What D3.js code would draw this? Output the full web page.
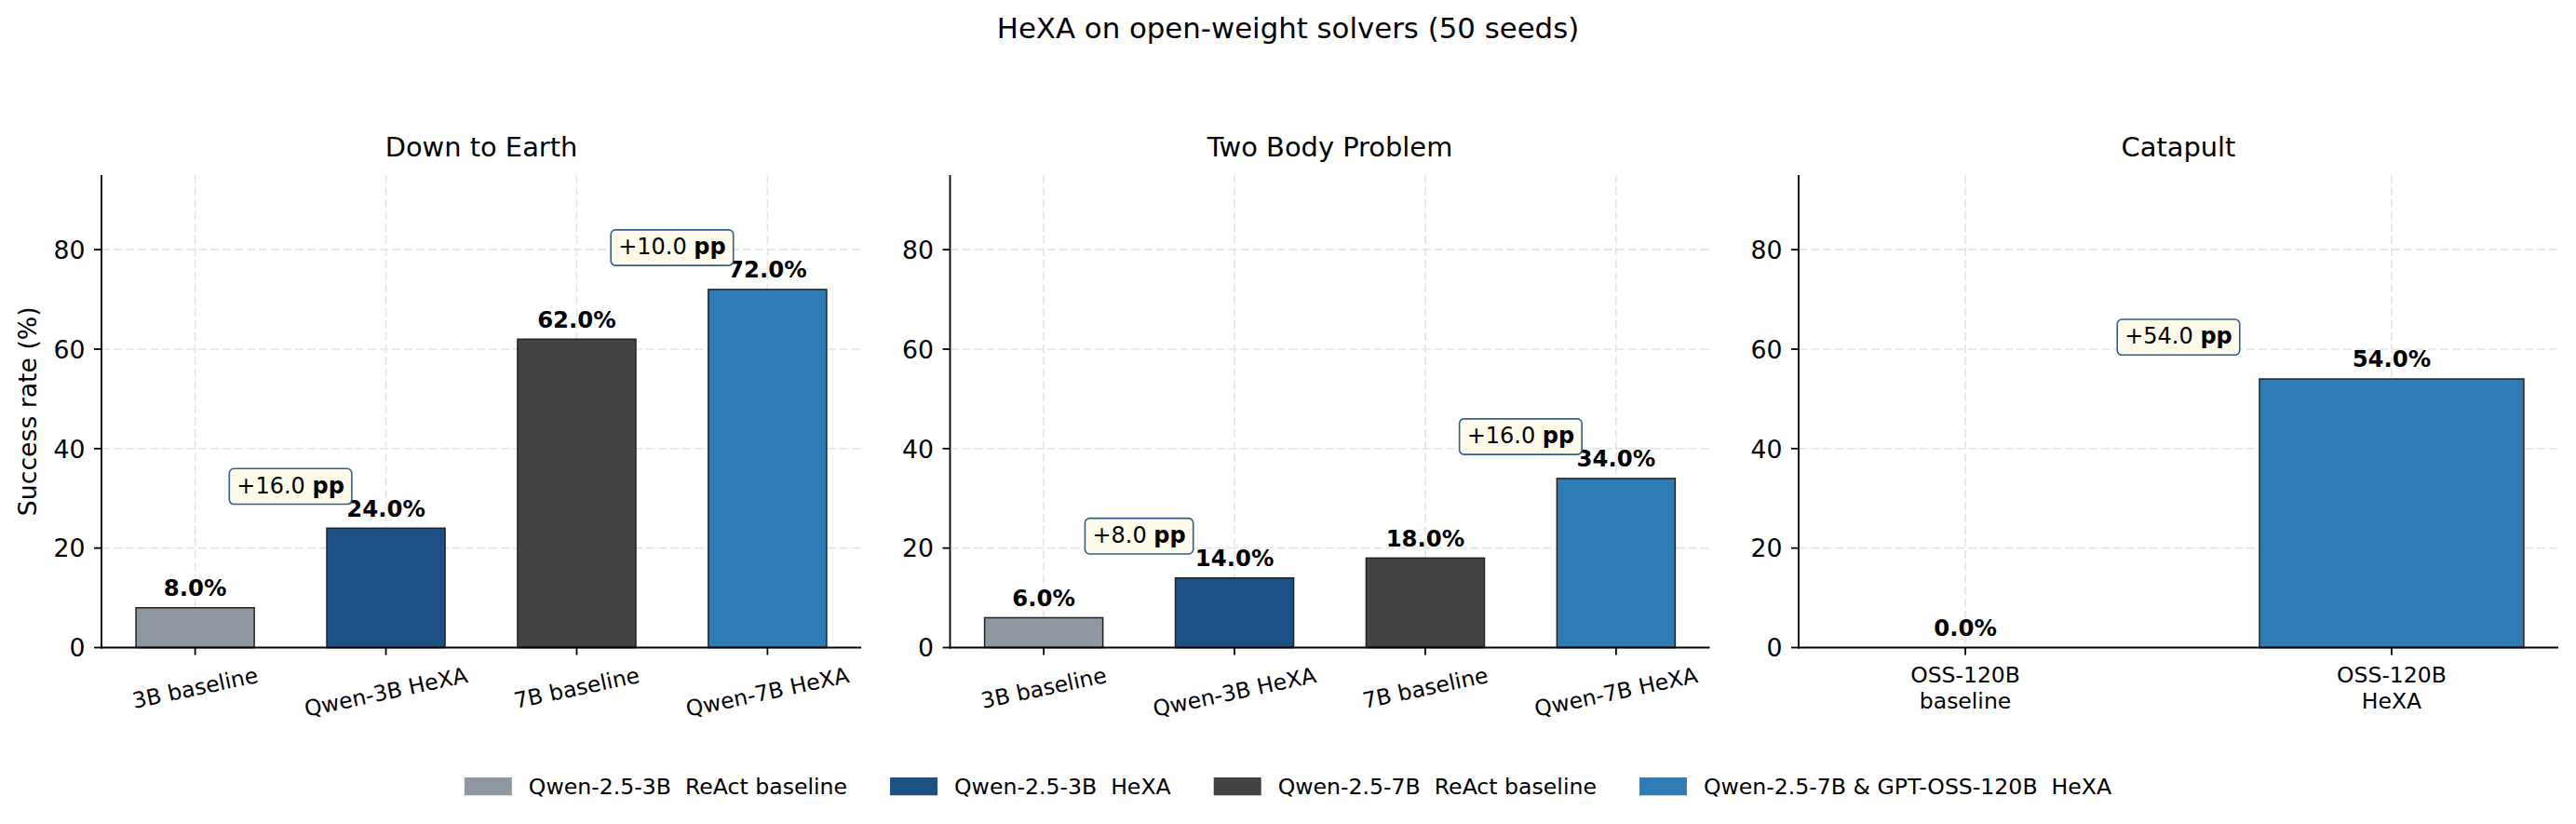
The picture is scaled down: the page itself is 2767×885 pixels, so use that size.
<!DOCTYPE html>
<html><head><meta charset="utf-8">
<script src="https://cdn.jsdelivr.net/npm/d3@7/dist/d3.min.js"></script>
<style>
body{margin:0;background:#fff}
text{font-family:"DejaVu Sans",sans-serif;white-space:pre}
</style>
</head><body>
<svg id="chart" width="2767" height="885" xmlns="http://www.w3.org/2000/svg"></svg>
<script>
// ---------------- data ----------------
const figTitle = "HeXA on open-weight solvers (50 seeds)";
const panelTitles = ["Down to Earth", "Two Body Problem", "Catapult"];
const qwenCategories = ["3B baseline", "Qwen-3B HeXA", "7B baseline", "Qwen-7B HeXA"];
const ossCategories = ["OSS-120B\nbaseline", "OSS-120B\nHeXA"];
const downToEarthValues = [8, 24, 62, 72];
const twoBodyValues = [6, 14, 18, 34];
const catapultValues = [0, 54];
const qwenSeries = [0, 1, 2, 3];
const ossSeries = [0, 3];
const qwenPairs = [[0, 1], [2, 3]];
const ossPairs = [[0, 1]];
const legendLabels = ["Qwen-2.5-3B  ReAct baseline", "Qwen-2.5-3B  HeXA", "Qwen-2.5-7B  ReAct baseline", "Qwen-2.5-7B & GPT-OSS-120B  HeXA"];
const seriesColors = ["#8f98a2", "#1d5084", "#444444", "#2e7bb5"];
const yTickValues = [0, 20, 40, 60, 80];
const yLabel = "Success rate (%)";
const yMax = 95;

const panels = [
  {title: panelTitles[0], cats: qwenCategories, vals: downToEarthValues, series: qwenSeries, pairs: qwenPairs, rotate: true},
  {title: panelTitles[1], cats: qwenCategories, vals: twoBodyValues, series: qwenSeries, pairs: qwenPairs, rotate: true},
  {title: panelTitles[2], cats: ossCategories, vals: catapultValues, series: ossSeries, pairs: ossPairs, rotate: false}
];

// ---------------- layout ----------------
const W = 2767, H = 885;
const panelLeft = [109, 1020.5, 1932];
const panelW = 816;
const plotTop = 188, plotBottom = 695.5;
const barW = 0.62;
const tickLen = 8;
const rotDeg = 12;

const svg = d3.select("#chart");
svg.append("rect").attr("width", W).attr("height", H).attr("fill", "#fff");

svg.append("text").attr("x", W / 2).attr("y", 40.7).attr("text-anchor", "middle")
  .attr("font-size", 30.8).attr("fill", "#000").text(figTitle);

const y = d3.scaleLinear().domain([0, yMax]).range([plotBottom, plotTop]);

panels.forEach((p, pi) => {
  const n = p.vals.length;
  const lo = -barW / 2, hi = n - 1 + barW / 2;
  const m = 0.05 * (hi - lo);
  const x = d3.scaleLinear().domain([lo - m, hi + m]).range([panelLeft[pi], panelLeft[pi] + panelW]);
  const g = svg.append("g");
  const idx = d3.range(n);

  // grid
  g.selectAll(".gy").data(yTickValues.filter(v => v > 0)).join("line")
    .attr("x1", panelLeft[pi]).attr("x2", panelLeft[pi] + panelW)
    .attr("y1", d => y(d)).attr("y2", d => y(d))
    .attr("stroke", "#e4e4e4").attr("stroke-width", 1.6).attr("stroke-dasharray", "9,4");
  g.selectAll(".gx").data(idx).join("line")
    .attr("x1", d => x(d)).attr("x2", d => x(d))
    .attr("y1", plotTop).attr("y2", plotBottom)
    .attr("stroke", "#e4e4e4").attr("stroke-width", 1.6).attr("stroke-dasharray", "9,4");

  // bars
  g.selectAll(".bar").data(idx).join("rect")
    .attr("x", d => x(d - barW / 2)).attr("width", d => x(d + barW / 2) - x(d - barW / 2))
    .attr("y", d => y(p.vals[d])).attr("height", d => y(0) - y(p.vals[d]))
    .attr("fill", d => seriesColors[p.series[d]])
    .attr("stroke", "#222").attr("stroke-width", 1.5);

  // value labels
  g.selectAll(".vl").data(idx).join("text")
    .attr("x", d => x(d)).attr("y", d => y(p.vals[d]) - 12.7)
    .attr("text-anchor", "middle").attr("font-size", 24.4).attr("font-weight", "bold")
    .attr("fill", "#000").text(d => p.vals[d].toFixed(1) + "%");

  // spines
  g.append("line").attr("x1", panelLeft[pi]).attr("x2", panelLeft[pi])
    .attr("y1", plotTop).attr("y2", plotBottom + 0.9).attr("stroke", "#000").attr("stroke-width", 1.8);
  g.append("line").attr("x1", panelLeft[pi] - 0.9).attr("x2", panelLeft[pi] + panelW)
    .attr("y1", plotBottom).attr("y2", plotBottom).attr("stroke", "#000").attr("stroke-width", 1.8);

  // y ticks
  g.selectAll(".yt").data(yTickValues).join("line")
    .attr("x1", panelLeft[pi] - tickLen).attr("x2", panelLeft[pi])
    .attr("y1", d => y(d)).attr("y2", d => y(d)).attr("stroke", "#000").attr("stroke-width", 1.8);
  g.selectAll(".ytl").data(yTickValues).join("text")
    .attr("x", panelLeft[pi] - 17.5).attr("y", d => y(d) + 0.364 * 26.7)
    .attr("text-anchor", "end").attr("font-size", 26.7).attr("fill", "#000").text(d => d);

  // x ticks
  g.selectAll(".xt").data(idx).join("line")
    .attr("x1", d => x(d)).attr("x2", d => x(d))
    .attr("y1", plotBottom).attr("y2", plotBottom + tickLen).attr("stroke", "#000").attr("stroke-width", 1.8);

  const fsX = 23.5;
  const labTop = plotBottom + tickLen + 7.8;
  idx.forEach(d => {
    const lines = p.cats[d].split("\n");
    if (p.rotate) {
      const t = g.append("text").attr("text-anchor", "middle").attr("font-size", fsX)
        .attr("fill", "#000").text(lines[0]);
      const w = t.node().getComputedTextLength();
      const th = rotDeg * Math.PI / 180;
      const hr = w * Math.sin(th) + 1.164 * fsX * Math.cos(th);
      const cy = labTop + hr / 2;
      t.attr("x", 0).attr("y", 0.346 * fsX)
        .attr("transform", `translate(${x(d)},${cy}) rotate(${-rotDeg})`);
    } else {
      const t = g.append("text").attr("text-anchor", "middle").attr("font-size", fsX).attr("fill", "#000");
      lines.forEach((ln, li) => {
        t.append("tspan").attr("x", x(d)).attr("y", labTop + 0.928 * fsX + li * 1.17 * fsX).text(ln);
      });
    }
  });

  // subplot title
  g.append("text").attr("x", panelLeft[pi] + panelW / 2).attr("y", 167.7)
    .attr("text-anchor", "middle").attr("font-size", 28.9).attr("fill", "#000").text(p.title);

  // gain annotations
  p.pairs.forEach(([a, b]) => {
    const gain = p.vals[b] - p.vals[a];
    const cx = (x(a) + x(b)) / 2;
    const base = y(Math.max(p.vals[a], p.vals[b]) + 8) + 5;
    const ag = g.append("g");
    const rect = ag.append("rect");
    const t = ag.append("text").attr("x", cx).attr("y", base).attr("text-anchor", "middle")
      .attr("font-size", 24).attr("fill", "#000");
    t.append("tspan").text("+" + gain.toFixed(1) + " ");
    t.append("tspan").attr("font-weight", "bold").text("pp");
    const tw = t.node().getComputedTextLength();
    rect.attr("x", cx - tw / 2 - 8).attr("width", tw + 16)
      .attr("y", base - 26.3).attr("height", 38.3).attr("rx", 5).attr("ry", 5)
      .attr("fill", "#fefbea").attr("stroke", "#2b5f93").attr("stroke-width", 1.6);
  });
});

// y label
svg.append("text").attr("transform", `translate(38.8,${(plotTop + plotBottom) / 2}) rotate(-90)`)
  .attr("text-anchor", "middle").attr("font-size", 26.7).attr("fill", "#000").text(yLabel);

// legend
const lg = svg.append("g");
const fsL = 23.6;
const patchW = 51, patchH = 19.3, gapPT = 18, gapItems = 46;
const items = legendLabels.map((lab, i) => {
  const t = lg.append("text").attr("font-size", fsL).attr("fill", "#000").text(lab);
  return {t, w: t.node().getComputedTextLength(), i};
});
const totalW = d3.sum(items, it => patchW + gapPT + it.w) + gapItems * (items.length - 1);
let cx0 = W / 2 - totalW / 2;
const legY = 844.6;
items.forEach(it => {
  lg.append("rect").attr("x", cx0).attr("y", legY - patchH / 2).attr("width", patchW).attr("height", patchH)
    .attr("fill", seriesColors[it.i]);
  it.t.attr("x", cx0 + patchW + gapPT).attr("y", legY + 0.364 * fsL);
  cx0 += patchW + gapPT + it.w + gapItems;
});
</script>
</body></html>
